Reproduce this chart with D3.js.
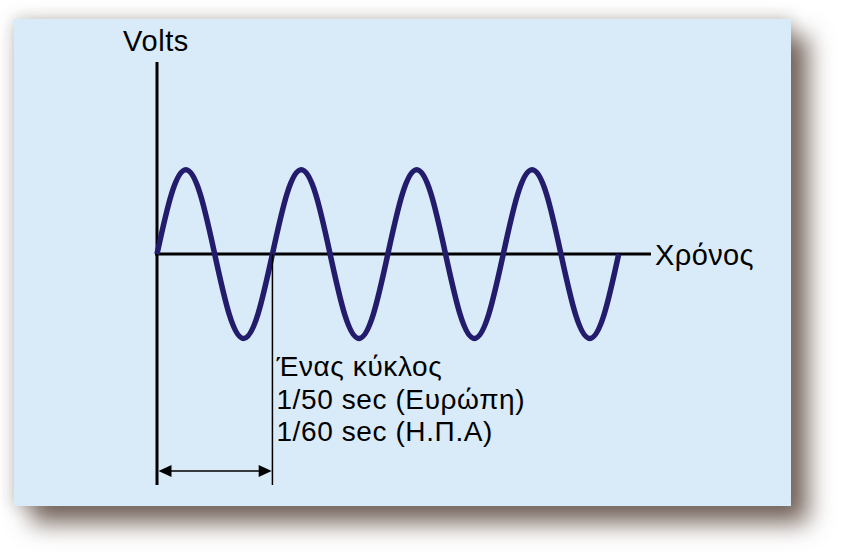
<!DOCTYPE html>
<html>
<head>
<meta charset="utf-8">
<script src="https://cdn.jsdelivr.net/npm/d3@7"></script>
<style>
  html, body { margin: 0; padding: 0; background: #ffffff; }
  svg { display: block; }
  text { font-family: "Liberation Sans", Arial, Helvetica, sans-serif; fill: #000; }
</style>
</head>
<body>
<svg id="chart" width="849" height="559"></svg>
<script>
// ---- data ----
const cyclePositions = [0, 0.125, 0.25, 0.375, 0.5, 0.625, 0.75, 0.875,
                        1, 1.125, 1.25, 1.375, 1.5, 1.625, 1.75, 1.875,
                        2, 2.125, 2.25, 2.375, 2.5, 2.625, 2.75, 2.875,
                        3, 3.125, 3.25, 3.375, 3.5, 3.625, 3.75, 3.875, 4];
const voltValues = [0, 0.71, 1, 0.71, 0, -0.71, -1, -0.71,
                    0, 0.71, 1, 0.71, 0, -0.71, -1, -0.71,
                    0, 0.71, 1, 0.71, 0, -0.71, -1, -0.71,
                    0, 0.71, 1, 0.71, 0, -0.71, -1, -0.71, 0];
const timeDomain = [0, 4.28];        // cycles along the time axis
const voltDomain = [-2.74, 2.28];    // volts along the vertical axis
const cycleMarker = [0, 1];          // one cycle
const yAxisLabel = "Volts";
const xAxisLabel = "Χρόνος";
const noteLines = ["Ένας κύκλος", "1/50 sec (Ευρώπη)", "1/60 sec (Η.Π.Α)"];

// ---- layout ----
const svg = d3.select("#chart");
const panel = { x: 14, y: 19, w: 777, h: 487 };

const x = d3.scaleLinear().domain(timeDomain).range([157, 651]);
const y = d3.scaleLinear().domain(voltDomain).range([485, 62]);

// shadow filter
const defs = svg.append("defs");
const f = defs.append("filter").attr("id", "shadow")
  .attr("x", -0.1).attr("y", -0.15).attr("width", 1.3).attr("height", 1.4);
f.append("feGaussianBlur").attr("in", "SourceAlpha").attr("stdDeviation", 12).attr("result", "b1");
f.append("feOffset").attr("in", "b1").attr("dx", 17).attr("dy", 17).attr("result", "o1");
f.append("feFlood").attr("flood-color", "#74645b").attr("result", "c1");
f.append("feComposite").attr("in", "c1").attr("in2", "o1").attr("operator", "in").attr("result", "s1");
f.append("feGaussianBlur").attr("in", "SourceAlpha").attr("stdDeviation", 8).attr("result", "b2");
f.append("feFlood").attr("flood-color", "#6a625c").attr("flood-opacity", 0.4).attr("result", "c2");
f.append("feComposite").attr("in", "c2").attr("in2", "b2").attr("operator", "in").attr("result", "s2");
const m = f.append("feMerge");
m.append("feMergeNode").attr("in", "s2");
m.append("feMergeNode").attr("in", "s1");

svg.append("rect")
  .attr("x", panel.x).attr("y", panel.y).attr("width", panel.w).attr("height", panel.h)
  .attr("fill", "#000").attr("filter", "url(#shadow)");
svg.append("rect")
  .attr("x", panel.x).attr("y", panel.y).attr("width", panel.w).attr("height", panel.h)
  .attr("fill", "#d9eaf8");

// axes
svg.append("line")
  .attr("x1", x(0)).attr("x2", x(0))
  .attr("y1", y(voltDomain[1])).attr("y2", y(voltDomain[0]))
  .attr("stroke", "#000").attr("stroke-width", 3);
svg.append("line")
  .attr("x1", x(0) - 2).attr("x2", x(timeDomain[1]))
  .attr("y1", y(0)).attr("y2", y(0))
  .attr("stroke", "#000").attr("stroke-width", 3);

svg.append("text")
  .attr("x", x(0) - 1).attr("y", 51)
  .attr("text-anchor", "middle").attr("font-size", 29)
  .attr("letter-spacing", 0.6)
  .text(yAxisLabel);
svg.append("text")
  .attr("x", x(timeDomain[1]) + 4).attr("y", y(0) + 11)
  .attr("font-size", 29)
  .attr("letter-spacing", 0.4)
  .text(xAxisLabel);

// wave
const pts = cyclePositions.map((c, i) => [c, voltValues[i]]);
const line = d3.line().x(d => x(d[0])).y(d => y(d[1])).curve(d3.curveNatural);
svg.append("path")
  .attr("d", line(pts))
  .attr("fill", "none")
  .attr("stroke", "#231c6c")
  .attr("stroke-width", 5.5)
  .attr("stroke-linejoin", "round");

// cycle marker
svg.append("line")
  .attr("x1", x(cycleMarker[1])).attr("x2", x(cycleMarker[1]))
  .attr("y1", y(0)).attr("y2", y(voltDomain[0]))
  .attr("stroke", "#000").attr("stroke-width", 1.5);

const arrowY = y(voltDomain[0]) - 14;
const ax0 = x(cycleMarker[0]) + 1.5, ax1 = x(cycleMarker[1]) - 0.75;
svg.append("line")
  .attr("x1", ax0 + 8).attr("x2", ax1 - 8)
  .attr("y1", arrowY).attr("y2", arrowY)
  .attr("stroke", "#000").attr("stroke-width", 1.5);
svg.append("path")
  .attr("d", `M${ax0},${arrowY} L${ax0 + 13},${arrowY - 6} L${ax0 + 13},${arrowY + 6} Z`)
  .attr("fill", "#000");
svg.append("path")
  .attr("d", `M${ax1},${arrowY} L${ax1 - 13},${arrowY - 6} L${ax1 - 13},${arrowY + 6} Z`)
  .attr("fill", "#000");

// note
svg.append("g").selectAll("text").data(noteLines).join("text")
  .attr("x", x(cycleMarker[1]) + 4)
  .attr("y", (d, i) => 376 + i * 32.5)
  .attr("font-size", 28)
  .attr("letter-spacing", 0.6)
  .text(d => d);
</script>
</body>
</html>
